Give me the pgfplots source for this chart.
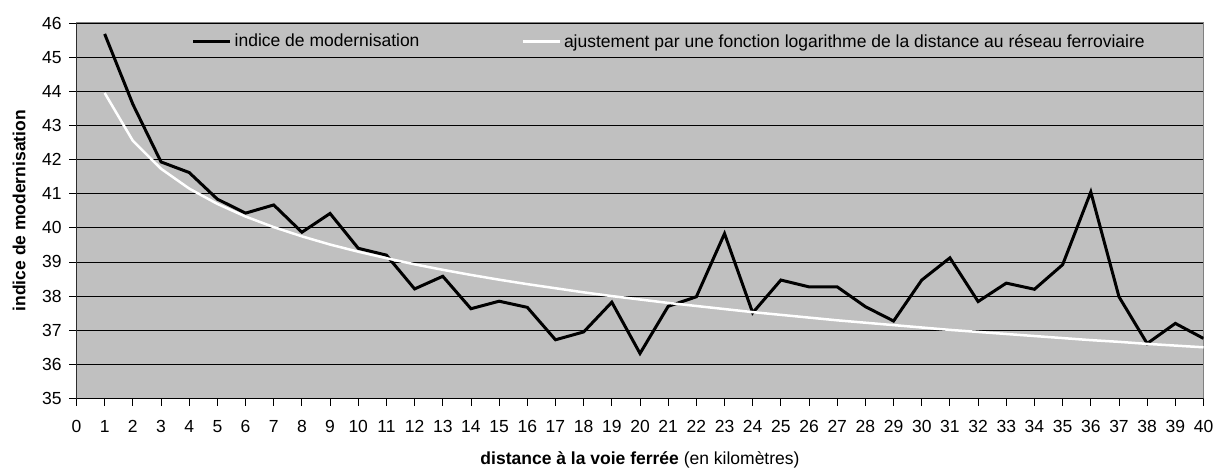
\documentclass[border=0pt]{standalone}
\usepackage{fontspec}
\setmainfont{Liberation Sans}
\usepackage{pgfplots}
\pgfplotsset{compat=1.18}
\definecolor{plotgray}{RGB}{192,192,192}
\definecolor{bordergray}{RGB}{128,128,128}
\newcommand{\chartfont}{\fontsize{17.5bp}{20bp}\selectfont}
\begin{document}
\begin{tikzpicture}
\useasboundingbox (-76.5bp,-69.5bp) rectangle (1142.5bp,398.5bp);
\begin{axis}[
  scale only axis,
  width=1127bp, height=375.5bp,
  xmin=0, xmax=40, ymin=35, ymax=46,
  xtick={0,...,40}, ytick={35,...,46},
  axis background/.style={fill=plotgray},
  ymajorgrids,
  grid style={black, line width=0.9bp},
  axis line style={bordergray, line width=1bp},
  tick style={black, line width=0.9bp},
  major tick length=7bp,
  tick align=outside,
  xtick pos=left, ytick pos=left,
  /pgf/number format/assume math mode=true,
  tick label style={font=\chartfont},
  xticklabel style={yshift=-11bp},
  yticklabel style={xshift=-4.4bp},
  every axis y label/.style={at={(axis description cs:0,0.5)}, xshift=-57.5bp, rotate=90, anchor=center, font=\chartfont\bfseries},
  every axis x label/.style={at={(axis description cs:0.5,0)}, anchor=center, yshift=-61bp, font=\chartfont},
  ylabel={indice de modernisation},
  xlabel={\textbf{distance à la voie ferrée} (en kilomètres)},
  legend columns=2,
  legend style={draw=none, fill=none, inner sep=0pt, outer sep=0pt,
    anchor=west, at={(axis description cs:0.1022,0.951)},
    font=\chartfont,
    nodes={inner sep=0pt},
    /tikz/every odd column/.style={column sep=3bp},
    /tikz/every even column/.style={column sep=102bp}},
  legend image code/.code={\draw[#1] (0bp,0bp) -- (37bp,0bp);},
]
\addplot[black, line width=3bp] coordinates {
(1,45.68)(2,43.62)(3,41.93)(4,41.62)(5,40.84)(6,40.43)(7,40.67)(8,39.87)(9,40.42)(10,39.40)
(11,39.20)(12,38.21)(13,38.58)(14,37.63)(15,37.85)(16,37.67)(17,36.72)(18,36.95)(19,37.82)(20,36.32)
(21,37.70)(22,37.98)(23,39.83)(24,37.51)(25,38.47)(26,38.27)(27,38.27)(28,37.69)(29,37.27)(30,38.47)
(31,39.12)(32,37.84)(33,38.38)(34,38.20)(35,38.92)(36,41.05)(37,37.98)(38,36.61)(39,37.20)(40,36.76)
};
\addlegendentry{indice de modernisation}
\addplot[white, line width=2.5bp] coordinates {
(1,43.95)(2,42.55)(3,41.73)(4,41.15)(5,40.70)(6,40.33)(7,40.02)(8,39.75)(9,39.51)(10,39.30)
(11,39.11)(12,38.93)(13,38.77)(14,38.62)(15,38.48)(16,38.35)(17,38.23)(18,38.11)(19,38.00)(20,37.90)
(21,37.80)(22,37.71)(23,37.62)(24,37.53)(25,37.45)(26,37.37)(27,37.29)(28,37.22)(29,37.15)(30,37.08)
(31,37.01)(32,36.95)(33,36.89)(34,36.83)(35,36.77)(36,36.71)(37,36.66)(38,36.60)(39,36.55)(40,36.50)
};
\addlegendentry{ajustement par une fonction logarithme de la distance au réseau ferroviaire}
\draw[black, line width=1bp] (rel axis cs:0,1) -- (rel axis cs:0,0) -- (rel axis cs:1,0);
\end{axis}
\end{tikzpicture}
\end{document}
